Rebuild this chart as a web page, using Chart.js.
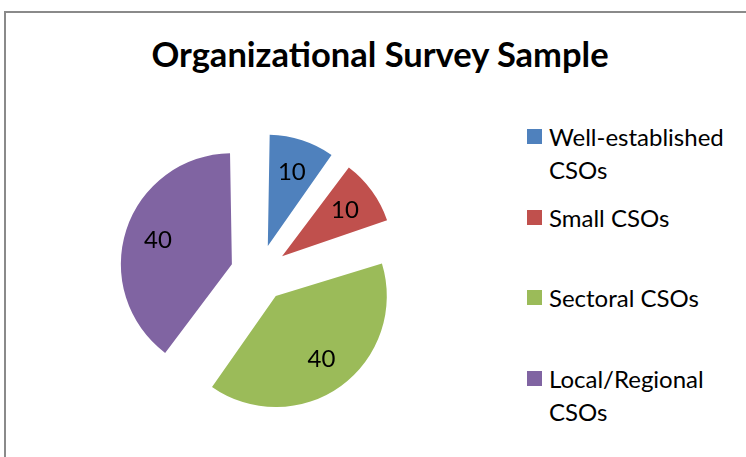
<!DOCTYPE html>
<html>
<head>
<meta charset="utf-8">
<script src="https://cdn.jsdelivr.net/npm/chart.js@4"></script>
<style>
  body { margin: 0; background: #fff; width: 746px; height: 457px; overflow: hidden; position: relative; font-family: Lato, "Open Sans", sans-serif; }
  #frame { position: absolute; left: 4px; top: 11px; width: 760px; height: 460px; border-top: 2px solid #8a8a8a; border-left: 2px solid #8a8a8a; }
  #title { position: absolute; left: 0; width: 760px; top: 34px; text-align: center; font-weight: bold; font-size: 34.5px; line-height: 40px; color: #000; }
  #pie { position: absolute; left: 99px; top: 113px; }
  .item { position: absolute; left: 527px; width: 215px; font-size: 24px; line-height: 33px; color: #000; }
  .item span.box { position: absolute; left: 0; top: 9px; width: 15px; height: 15px; }
  .item span.txt { display: block; margin-left: 22px; }
</style>
</head>
<body>
<div id="frame"></div>
<div id="title">Organizational Survey Sample</div>
<canvas id="pie" width="320" height="320"></canvas>
<div id="legend"></div>
<script>
const labels = ['Well-established CSOs', 'Small CSOs', 'Sectoral CSOs', 'Local/Regional CSOs'];
const values = [10, 10, 40, 40];
const colors = ['#4F81BD', '#C0504D', '#9BBB59', '#8064A2'];

// data labels inside the slices, like excel
const sliceLabels = {
  id: 'sliceLabels',
  afterDatasetsDraw(chart) {
    const ctx = chart.ctx;
    const meta = chart.getDatasetMeta(0);
    ctx.save();
    ctx.font = '24px Lato';
    ctx.fillStyle = '#000';
    ctx.textAlign = 'center';
    ctx.textBaseline = 'middle';
    meta.data.forEach((arc, i) => {
      const p = arc.getProps(['x', 'y', 'startAngle', 'endAngle', 'outerRadius', 'circumference'], true);
      const mid = (p.startAngle + p.endAngle) / 2;
      const off = (arc.options.offset || 0) / 4;
      const fix = 1 - Math.sin(Math.min(Math.PI, p.circumference));
      const r = p.outerRadius + off * fix;
      const d = off + r * 0.7;
      ctx.fillText(String(values[i]), p.x + Math.cos(mid) * d, p.y + Math.sin(mid) * d);
    });
    ctx.restore();
  }
};

new Chart(document.getElementById('pie'), {
  type: 'pie',
  data: {
    labels: labels,
    datasets: [{
      data: values,
      backgroundColor: colors,
      borderWidth: 0,
      offset: 114
    }]
  },
  options: {
    responsive: false,
    animation: false,
    radius: 99.3,
    plugins: { legend: { display: false }, tooltip: { enabled: false } },
    events: []
  },
  plugins: [sliceLabels]
});

const legend = document.getElementById('legend');
labels.forEach((l, i) => {
  const div = document.createElement('div');
  div.className = 'item';
  div.style.top = (120 + i * 80.7) + 'px';
  div.innerHTML = '<span class="box" style="background:' + colors[i] + '"></span><span class="txt">' + l + '</span>';
  legend.appendChild(div);
});
</script>
</body>
</html>
